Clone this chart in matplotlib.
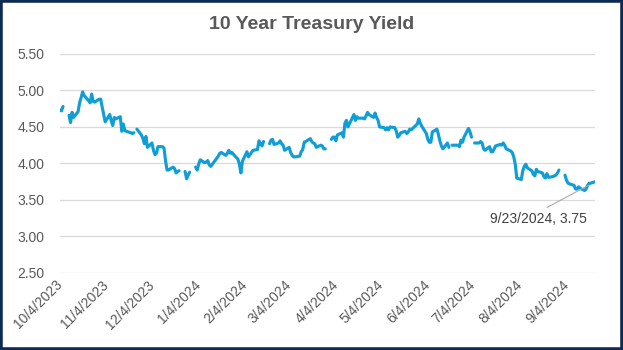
import numpy as np
import pandas as pd
import matplotlib
matplotlib.use("Agg")
import matplotlib.pyplot as plt
import matplotlib.dates as mdates
from matplotlib.patches import Rectangle

nan = np.nan

# Daily 10-year yields (%), blank = market holiday (gap in the line)
oct23_days = [4, 5, 6, 9, 10, 11, 12, 13, 16, 17, 18, 19, 20, 23, 24, 25, 26, 27, 30, 31]
oct23 = [4.73, 4.72, 4.78, nan, 4.66, 4.56, 4.70, 4.63, 4.71, 4.83, 4.90, 4.98, 4.93,
         4.86, 4.83, 4.95, 4.85, 4.84, 4.88, 4.88]
nov23_days = [1, 2, 3, 6, 7, 8, 9, 10, 13, 14, 15, 16, 17, 20, 21, 22, 23, 24, 27, 28, 29, 30]
nov23 = [4.77, 4.67, 4.57, 4.67, 4.58, 4.52, 4.63, 4.61, 4.64, 4.44, 4.54, 4.45, 4.44,
         4.42, 4.41, 4.42, nan, 4.47, 4.39, 4.34, 4.27, 4.37]
dec23_days = [1, 4, 5, 6, 7, 8, 11, 12, 13, 14, 15, 18, 19, 20, 21, 22, 25, 26, 27, 28, 29]
dec23 = [4.22, 4.28, 4.18, 4.12, 4.14, 4.23, 4.23, 4.21, 4.04, 3.91, 3.91, 3.95, 3.93,
         3.87, 3.89, 3.90, nan, 3.89, 3.79, 3.84, 3.88]
jan24_days = [1, 2, 3, 4, 5, 8, 9, 10, 11, 12, 16, 17, 18, 19, 22, 23, 24, 25, 26, 29, 30, 31]
jan24 = [nan, 3.95, 3.91, 3.99, 4.05, 4.01, 4.02, 4.04, 3.98, 3.96, 4.07, 4.10, 4.14,
         4.15, 4.11, 4.14, 4.18, 4.14, 4.15, 4.08, 4.06, 3.99]
feb24_days = [1, 2, 5, 6, 7, 8, 9, 12, 13, 14, 15, 16, 19, 20, 21, 22, 23, 26, 27, 28, 29]
feb24 = [3.87, 4.03, 4.16, 4.09, 4.12, 4.15, 4.18, 4.19, 4.31, 4.27, 4.24, 4.30, nan,
         4.27, 4.32, 4.33, 4.26, 4.28, 4.31, 4.27, 4.25]
mar24_days = [1, 4, 5, 6, 7, 8, 11, 12, 13, 14, 15, 18, 19, 20, 21, 22, 25, 26, 27, 28, 29]
mar24 = [4.18, 4.22, 4.15, 4.11, 4.09, 4.09, 4.10, 4.16, 4.19, 4.29, 4.30, 4.34, 4.30,
         4.28, 4.27, 4.22, 4.25, 4.24, 4.20, 4.20, nan]
apr24_days = [1, 2, 3, 4, 5, 8, 9, 10, 11, 12, 15, 16, 17, 18, 19, 22, 23, 24, 25, 26, 29, 30]
apr24 = [4.33, 4.36, 4.36, 4.31, 4.39, 4.42, 4.36, 4.55, 4.59, 4.50, 4.63, 4.67, 4.59,
         4.64, 4.62, 4.62, 4.61, 4.65, 4.70, 4.67, 4.63, 4.69]
may24_days = [1, 2, 3, 6, 7, 8, 9, 10, 13, 14, 15, 16, 17, 20, 21, 22, 23, 24, 28, 29, 30, 31]
may24 = [4.63, 4.59, 4.50, 4.49, 4.46, 4.49, 4.46, 4.50, 4.49, 4.45, 4.36, 4.38, 4.42,
         4.44, 4.41, 4.43, 4.47, 4.46, 4.54, 4.61, 4.55, 4.51]
jun24_days = [3, 4, 5, 6, 7, 10, 11, 12, 13, 14, 17, 18, 19, 20, 21, 24, 25, 26, 27, 28]
jun24 = [4.41, 4.33, 4.29, 4.29, 4.43, 4.47, 4.40, 4.31, 4.24, 4.20, 4.28, 4.22, nan,
         4.25, 4.25, 4.25, 4.23, 4.32, 4.29, 4.36]
jul24_days = [1, 2, 3, 4, 5, 8, 9, 10, 11, 12, 15, 16, 17, 18, 19, 22, 23, 24, 25, 26, 29, 30, 31]
jul24 = [4.48, 4.43, 4.36, nan, 4.28, 4.28, 4.30, 4.28, 4.20, 4.18, 4.23, 4.16, 4.16,
         4.20, 4.24, 4.26, 4.25, 4.28, 4.25, 4.20, 4.17, 4.15, 4.09]
aug24_days = [1, 2, 5, 6, 7, 8, 9, 12, 13, 14, 15, 16, 19, 20, 21, 22, 23, 26, 27, 28, 29, 30]
aug24 = [3.99, 3.80, 3.78, 3.90, 3.96, 3.99, 3.94, 3.90, 3.85, 3.83, 3.92, 3.89, 3.87,
         3.82, 3.80, 3.86, 3.81, 3.82, 3.83, 3.84, 3.87, 3.91]
sep24_days = [2, 3, 4, 5, 6, 9, 10, 11, 12, 13, 16, 17, 18, 19, 20, 23]
sep24 = [nan, 3.84, 3.77, 3.73, 3.72, 3.70, 3.65, 3.65, 3.68, 3.66, 3.63, 3.65, 3.70,
         3.73, 3.73, 3.75]

months = [(2023, 10, oct23_days, oct23), (2023, 11, nov23_days, nov23),
          (2023, 12, dec23_days, dec23), (2024, 1, jan24_days, jan24),
          (2024, 2, feb24_days, feb24), (2024, 3, mar24_days, mar24),
          (2024, 4, apr24_days, apr24), (2024, 5, may24_days, may24),
          (2024, 6, jun24_days, jun24), (2024, 7, jul24_days, jul24),
          (2024, 8, aug24_days, aug24), (2024, 9, sep24_days, sep24)]

dates, yields = [], []
for yr, mo, days, vals in months:
    dates += [pd.Timestamp(yr, mo, d) for d in days]
    yields += vals
dates = pd.to_datetime(dates)
yields = np.array(yields, dtype=float)

plt.rcParams["font.family"] = ["Liberation Sans", "DejaVu Sans"]

fig = plt.figure(figsize=(6.23, 3.5), dpi=100)
ax = fig.add_axes([0.0963, 0.22, 0.859, 0.626])

ax.plot(dates, yields, color="#0F9ED5", lw=2.25,
        solid_joinstyle="round", solid_capstyle="round")

ax.set_xlim(dates[0], dates[-1])
ax.set_ylim(2.5, 5.5)
ax.set_yticks(np.arange(2.5, 5.51, 0.5))
ax.yaxis.set_major_formatter(plt.FormatStrFormatter("%.2f"))
ax.xaxis.set_major_locator(mdates.MonthLocator(bymonthday=4))
ax.xaxis.set_major_formatter(mdates.DateFormatter("%-m/%-d/%Y"))

ax.grid(axis="y", color="#D9D9D9", lw=0.9)
ax.set_axisbelow(True)
for s in ax.spines.values():
    s.set_visible(False)

ax.tick_params(axis="y", length=0, pad=11, labelsize=10, labelcolor="#595959")
ax.tick_params(axis="x", length=0, pad=7, labelsize=10, labelcolor="#595959")
for lbl in ax.get_xticklabels():
    lbl.set_rotation(45)
    lbl.set_ha("right")
    lbl.set_va("center")
    lbl.set_rotation_mode("anchor")

# data label on the last point
last = dates[-1]
ax.annotate(f"{last.month}/{last.day}/{last.year}, {yields[-1]:.2f}",
            xy=(last, yields[-1]), xytext=(-41, -27), textcoords="offset points",
            ha="center", va="center", fontsize=10, color="#404040",
            arrowprops=dict(arrowstyle="-", color="#A6A6A6", lw=0.75,
                            relpos=(0.5, 1.0), shrinkA=3, shrinkB=5))

fig.text(0.5, 0.931, "10 Year Treasury Yield", ha="center", va="center",
         fontsize=14, fontweight="bold", color="#595959")

fig.patches.append(Rectangle((0, 0), 1, 1, transform=fig.transFigure, fill=False,
                             edgecolor="#0C2A52", lw=4))

fig.savefig("out.png", dpi=100)
